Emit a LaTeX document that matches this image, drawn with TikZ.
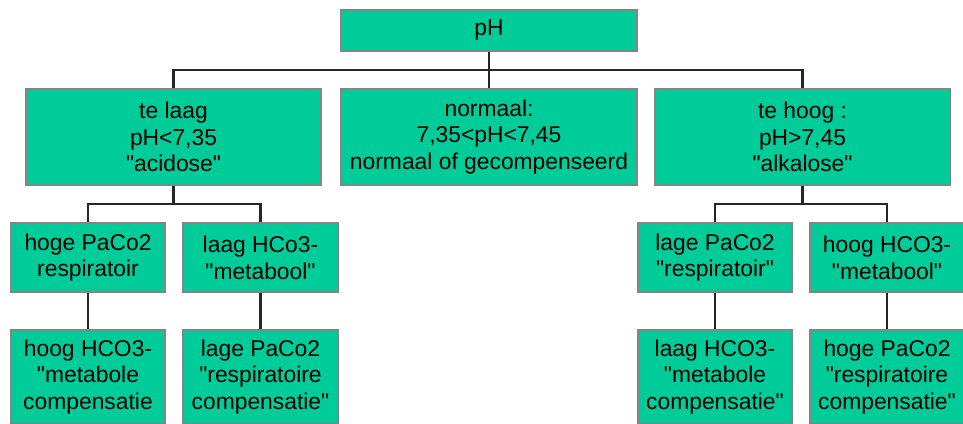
\documentclass[tikz,border=0pt]{standalone}
\usepackage{fontspec}
\setmainfont{Liberation Sans}

\definecolor{vakgroen}{HTML}{00CC99}
\definecolor{vakrand}{HTML}{858585}

% rechte aanhalingstekens
\newcommand{\aanh}{\textquotedbl}

\tikzset{
  vak/.style={draw=vakrand, line width=0.7pt, fill=vakgroen, inner sep=0pt,
    align=center, font=\fontsize{13}{15.2}\selectfont},
  lijn/.style={draw=black!85, line width=1.2pt}
}

\begin{document}
\begin{tikzpicture}[x=0.02cm, y=-0.02cm]

\clip (0,0) rectangle (963,423);
\fill[white] (0,0) rectangle (963,423);

% Bovenste niveau
\node[vak, minimum width=296*0.02cm, minimum height=41*0.02cm] (ph) at (489,30.5) {pH};

% Tweede niveau
\node[vak, minimum width=295*0.02cm, minimum height=96*0.02cm] (laag) at (173.5,137)
	{te laag\\pH<7,35\\\aanh acidose\aanh};
\node[vak, minimum width=296*0.02cm, minimum height=96*0.02cm] (normaal) at (489,137)
	{normaal:\\7,35<pH<7,45\\normaal of gecompenseerd};
\node[vak, minimum width=295*0.02cm, minimum height=96*0.02cm] (hoog) at (802.5,137)
	{te hoog :\\pH>7,45\\\aanh alkalose\aanh};

% Derde niveau
\node[vak, minimum width=154*0.02cm, minimum height=69*0.02cm] (lpaco) at (88,257.5)
	{hoge PaCo2\\respiratoir};
\node[vak, minimum width=155*0.02cm, minimum height=69*0.02cm] (lhco) at (260.5,257.5)
	{laag HCo3-\\\aanh metabool\aanh};
\node[vak, minimum width=154*0.02cm, minimum height=69*0.02cm] (rpaco) at (715,257.5)
	{lage PaCo2\\\aanh respiratoir\aanh};
\node[vak, minimum width=154*0.02cm, minimum height=69*0.02cm] (rhco) at (887,257.5)
	{hoog HCO3-\\\aanh metabool\aanh};

% Compensatie
\node[vak, minimum width=154*0.02cm, minimum height=94*0.02cm] (lhcocomp) at (88,377)
	{hoog HCO3-\\\aanh metabole\\compensatie};
\node[vak, minimum width=155*0.02cm, minimum height=94*0.02cm] (lpacocomp) at (260.5,377)
	{lage PaCo2\\\aanh respiratoire\\compensatie\aanh};
\node[vak, minimum width=154*0.02cm, minimum height=94*0.02cm] (rhcocomp) at (715,377)
	{laag HCO3-\\\aanh metabole\\compensatie\aanh};
\node[vak, minimum width=154*0.02cm, minimum height=94*0.02cm] (rpacocomp) at (887,377)
	{hoge PaCo2\\\aanh respiratoire\\compensatie\aanh};

% Verbindingen
\coordinate (bus1) at (489,70);
\coordinate (bus2) at (173.5,204);
\coordinate (bus3) at (802.5,204);

\draw[lijn] (ph.south) -- (normaal.north);
\draw[lijn] (laag.north) |- (bus1) -| (hoog.north);

\draw[lijn] (laag.south) -- (bus2);
\draw[lijn] (lpaco.north) |- (bus2) -| (lhco.north);
\draw[lijn] (hoog.south) -- (bus3);
\draw[lijn] (rpaco.north) |- (bus3) -| (rhco.north);

\draw[lijn] (lpaco.south) -- (lhcocomp.north);
\draw[lijn] (lhco.south) -- (lpacocomp.north);
\draw[lijn] (rpaco.south) -- (rhcocomp.north);
\draw[lijn] (rhco.south) -- (rpacocomp.north);

\end{tikzpicture}
\end{document}
